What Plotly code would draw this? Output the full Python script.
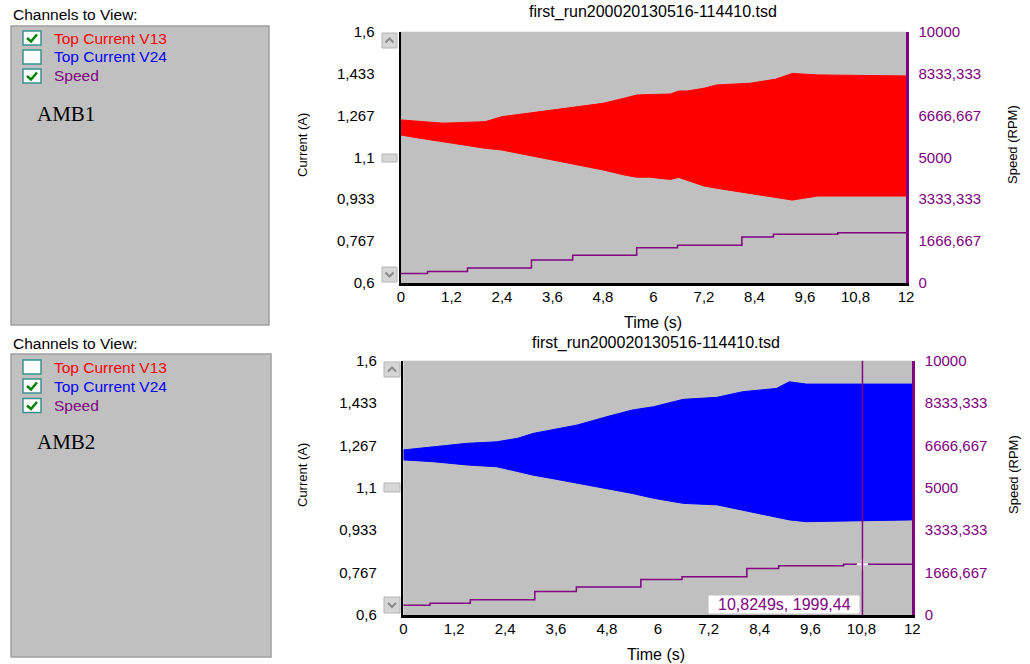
import plotly.graph_objects as go

W, H = 1030, 664

# ---------------- data ----------------
file_title = "first_run200020130516-114410.tsd"
time_ticks = [0, 1.2, 2.4, 3.6, 4.8, 6, 7.2, 8.4, 9.6, 10.8, 12]
time_ticktext = ["0", "1,2", "2,4", "3,6", "4,8", "6", "7,2", "8,4", "9,6", "10,8", "12"]
current_ticks = [0.6, 0.7667, 0.9333, 1.1, 1.2667, 1.4333, 1.6]
current_ticktext = ["0,6", "0,767", "0,933", "1,1", "1,267", "1,433", "1,6"]
speed_ticks = [0, 1666.667, 3333.333, 5000, 6666.667, 8333.333, 10000]
speed_ticktext = ["0", "1666,667", "3333,333", "5000", "6666,667", "8333,333", "10000"]

# Top Current V13 (AMB1) envelope
v13_t = [0, 0.3, 1.0, 2.0, 2.4, 3.0, 3.6, 4.2, 4.8, 5.3, 5.6, 5.9, 6.4, 6.6, 6.8, 7.2, 7.5, 8.3, 8.9, 9.3, 9.9, 12]
v13_hi = [1.249, 1.245, 1.236, 1.242, 1.262, 1.275, 1.288, 1.302, 1.315, 1.335, 1.348, 1.350,
          1.352, 1.364, 1.364, 1.375, 1.388, 1.395, 1.411, 1.434, 1.428, 1.424]
v13_lo = [1.189, 1.180, 1.162, 1.136, 1.129, 1.109, 1.089, 1.069, 1.050, 1.030, 1.021, 1.021,
          1.012, 1.020, 1.008, 0.986, 0.977, 0.957, 0.943, 0.930, 0.946, 0.946]

# Top Current V24 (AMB2) envelope
v24_t = [0, 0.7, 1.5, 2.2, 2.7, 3.06, 3.5, 4.1, 4.8, 5.4, 5.9, 6.6, 7.4, 8.0, 8.8, 9.1, 9.5, 12]
v24_hi = [1.249, 1.262, 1.275, 1.281, 1.295, 1.314, 1.327, 1.347, 1.380, 1.406, 1.419, 1.448,
          1.456, 1.478, 1.491, 1.517, 1.508, 1.508]
v24_lo = [1.210, 1.203, 1.190, 1.183, 1.164, 1.150, 1.137, 1.118, 1.098, 1.078, 1.059, 1.039,
          1.033, 1.013, 0.987, 0.974, 0.967, 0.974]

# Speed (step function)
speed_t = [0, 0.63, 1.58, 3.1, 4.08, 5.6, 6.57, 8.1, 8.85, 10.38, 12]
speed_rpm = [380, 460, 600, 920, 1100, 1400, 1500, 1830, 1940, 1999.44, 1999.44]

cursor_t = 10.8249
cursor_rpm = 1999.44
cursor_label = "10,8249s, 1999,44"

RED = "#ff0000"
BLUE = "#0000ff"
PURPLE = "#800080"
GRAY = "#c0c0c0"

# ---------------- helpers for pixel placement ----------------
def px(x):
    return x / W

def py(y):
    return 1 - y / H

fig = go.Figure()

# top chart
fig.add_trace(go.Scatter(x=v13_t, y=v13_lo, mode="lines", line=dict(color=RED, width=1),
                         xaxis="x", yaxis="y", showlegend=False, hoverinfo="skip"))
fig.add_trace(go.Scatter(x=v13_t, y=v13_hi, mode="lines", line=dict(color=RED, width=1),
                         fill="tonexty", fillcolor=RED,
                         xaxis="x", yaxis="y", showlegend=False, hoverinfo="skip"))
fig.add_trace(go.Scatter(x=speed_t, y=speed_rpm, mode="lines", line=dict(color=PURPLE, width=1.5, shape="hv"),
                         xaxis="x", yaxis="y2", showlegend=False, hoverinfo="skip"))

# bottom chart
fig.add_trace(go.Scatter(x=v24_t, y=v24_lo, mode="lines", line=dict(color=BLUE, width=1),
                         xaxis="x2", yaxis="y3", showlegend=False, hoverinfo="skip"))
fig.add_trace(go.Scatter(x=v24_t, y=v24_hi, mode="lines", line=dict(color=BLUE, width=1),
                         fill="tonexty", fillcolor=BLUE,
                         xaxis="x2", yaxis="y3", showlegend=False, hoverinfo="skip"))
fig.add_trace(go.Scatter(x=speed_t, y=speed_rpm, mode="lines", line=dict(color=PURPLE, width=1.5, shape="hv"),
                         xaxis="x2", yaxis="y4", showlegend=False, hoverinfo="skip"))
fig.add_trace(go.Scatter(x=[cursor_t], y=[cursor_rpm], mode="markers",
                         marker=dict(symbol="cross-thin", size=8, line=dict(color="white", width=2)),
                         xaxis="x2", yaxis="y4", showlegend=False, hoverinfo="skip"))

TICKFONT = dict(family="Liberation Sans, Arial, sans-serif", size=15, color="black")
PTICKFONT = dict(family="Liberation Sans, Arial, sans-serif", size=15, color=PURPLE)

def xax(domain, anchor):
    return dict(domain=domain, anchor=anchor, range=[0, 12], tickvals=time_ticks, ticktext=time_ticktext,
                showline=True, linecolor="black", linewidth=2.5, showgrid=False, zeroline=False,
                ticks="", tickfont=TICKFONT, ticklabelstandoff=-2, automargin=False, fixedrange=True)

def yleft(domain, anchor):
    return dict(domain=domain, anchor=anchor, range=[0.6, 1.6], tickvals=current_ticks,
                ticktext=current_ticktext, showline=True, linecolor="black", linewidth=2.5,
                showgrid=False, zeroline=False, ticks="", tickfont=TICKFONT, ticklabelstandoff=21,
                automargin=False, fixedrange=True)

def yright(over, anchor):
    return dict(overlaying=over, anchor=anchor, side="right", range=[0, 10000], tickvals=speed_ticks,
                ticktext=speed_ticktext, showline=True, linecolor=PURPLE, linewidth=2.5,
                showgrid=False, zeroline=False, ticks="", tickfont=PTICKFONT, ticklabelstandoff=7,
                automargin=False, fixedrange=True)

top_x = [px(401), px(906)]
top_y = [py(283), py(31.7)]
bot_x = [px(403.3), px(912.3)]
bot_y = [py(615), py(360.7)]

fig.update_layout(
    width=W, height=H, margin=dict(l=0, r=0, t=0, b=0, pad=0, autoexpand=False),
    paper_bgcolor="white", plot_bgcolor=GRAY,
    xaxis=xax(top_x, "y"), yaxis=yleft(top_y, "x"), yaxis2=yright("y", "x"),
    xaxis2=xax(bot_x, "y3"), yaxis3=yleft(bot_y, "x2"), yaxis4=yright("y3", "x2"),
    showlegend=False,
)

shapes = []
annotations = []
SANS = "Liberation Sans, Arial, sans-serif"

def text(x, y, s, size=14, color="black", xanchor="left", angle=0, family=SANS):
    annotations.append(dict(x=px(x), y=py(y), xref="paper", yref="paper", text=s, showarrow=False,
                            xanchor=xanchor, yanchor="middle", textangle=angle,
                            font=dict(family=family, size=size, color=color)))

def rect(x0, y0, x1, y1, fill, line, lw=1):
    shapes.append(dict(type="rect", xref="paper", yref="paper", x0=px(x0), x1=px(x1), y0=py(y1), y1=py(y0),
                       fillcolor=fill, line=dict(color=line, width=lw), layer="above"))

def path(points, color, lw=1.5):
    d = "M " + " L ".join(f"{px(a)},{py(b)}" for a, b in points)
    shapes.append(dict(type="path", xref="paper", yref="paper", path=d, line=dict(color=color, width=lw),
                       layer="above"))

# chart titles / axis titles
for (cx, tt, xt, cl, cr, yc) in [(653, 12, 322, 302, 1012, 145), (656, 343, 654, 302, 1013, 475)]:
    text(cx, tt, file_title, size=16, xanchor="center")
    text(cx, xt, "Time (s)", size=16, xanchor="center")
    text(cl, yc, "Current (A)", size=13, xanchor="center", angle=-90)
    text(cr, yc, "Speed (RPM)", size=13, xanchor="center", angle=-90)

# scroll buttons beside left axes
def buttons(x0, x1, up, mid, down):
    rect(x0, up[0], x1, up[1], "#d6d6d6", "#b4b4b4")
    cx = (x0 + x1) / 2
    cy = (up[0] + up[1]) / 2
    path([(cx - 4, cy + 2), (cx, cy - 2), (cx + 4, cy + 2)], "#8a8a8a", 2)
    rect(x0, mid[0], x1, mid[1], "#d6d6d6", "#b4b4b4")
    rect(x0, down[0], x1, down[1], "#d6d6d6", "#b4b4b4")
    cy = (down[0] + down[1]) / 2
    path([(cx - 4, cy - 2), (cx, cy + 2), (cx + 4, cy - 2)], "#8a8a8a", 2)

buttons(382, 397, (33, 48), (154, 162), (267, 282))
buttons(384, 400, (362, 377), (483, 492), (597, 613))

# cursor on the bottom chart
shapes.append(dict(type="line", xref="x2", yref="y3 domain", x0=cursor_t, x1=cursor_t, y0=0, y1=1,
                   line=dict(color=PURPLE, width=1.5), layer="above"))
rect(709, 596, 859, 613, "white", "white")
text(784, 604.5, cursor_label, size=16, color=PURPLE, xanchor="center")

# channel selection panels
def panel(label_y, box, rows_y, checked, amb_y, amb):
    text(11, label_y, "Channels to View:", size=15.5)
    rect(box[0], box[1], box[2], box[3], GRAY, "#a0a0a0", 1.5)
    names = ["Top Current V13", "Top Current V24", "Speed"]
    colors = [RED, BLUE, PURPLE]
    for yy, nm, col, chk in zip(rows_y, names, colors, checked):
        rect(23, yy - 7, 41, yy + 7, "white", "#3a9090", 1.5)
        if chk:
            path([(27, yy), (31, yy + 3.5), (37, yy - 3.5)], "#008000", 2.5)
        text(52, yy, nm, size=15.5, color=col)
    text(35, amb_y, amb, size=21, family="Liberation Serif, Times New Roman, serif")

panel(14, (11, 26, 269, 325), [38, 57, 76], [True, False, True], 114, "AMB1")
panel(343, (11, 354, 271, 657), [367, 386, 405.5], [False, True, True], 442, "AMB2")

fig.update_layout(shapes=shapes, annotations=annotations)
fig.write_html("out.html", config={"displayModeBar": False, "staticPlot": True},
               post_script="document.body.style.margin='0';document.body.style.overflow='hidden';")
